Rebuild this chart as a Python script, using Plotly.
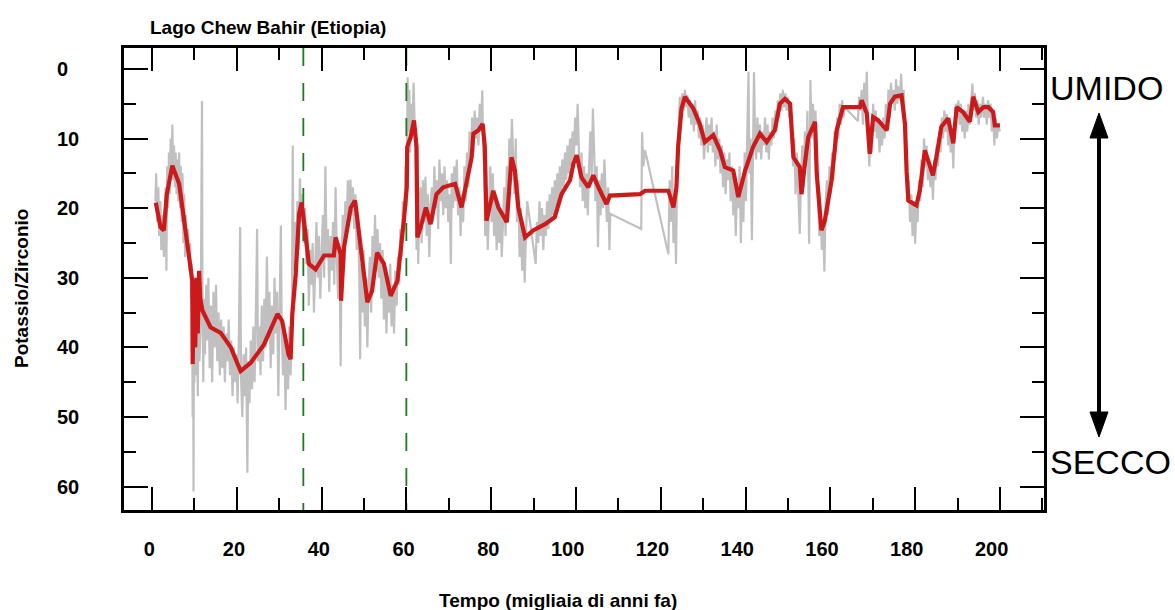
import plotly.graph_objects as go

# ---------------- data ----------------
# x tick values / labels
x_ticks = [0, 20, 40, 60, 80, 100, 120, 140, 160, 180, 200]
x_minor = [10, 30, 50, 70, 90, 110, 130, 150, 170, 190, 210]
y_ticks = [0, 10, 20, 30, 40, 50, 60]
y_minor = [5, 15, 25, 35, 45, 55]

# boundaries (green dashed lines), thousand years ago
boundaries = [35.7, 60.0]

# raw K/Zr record (grey), segments of (age, value)
raw_seg1 = [
    (0.8, 19), (1.0, 15), (1.2, 22), (1.5, 17), (1.7, 24), (2.0, 19), (2.2, 26), (2.5, 21), (2.8, 27), (3.0, 22),
    (3.2, 17), (3.4, 29), (3.6, 14), (3.8, 20), (4.0, 12), (4.2, 18), (4.4, 10), (4.6, 15), (4.8, 8), (5.0, 16),
    (5.2, 11), (5.4, 17), (5.6, 12), (5.8, 18), (6.0, 13), (6.2, 19), (6.4, 12), (6.6, 20), (6.8, 14), (7.0, 22),
    (7.2, 15), (7.4, 25), (7.6, 18), (7.8, 27), (8.0, 21), (8.2, 26), (8.5, 23), (8.8, 29), (9.0, 25), (9.2, 33),
    (9.4, 28), (9.6, 50), (9.7, 38), (9.8, 60.7), (9.9, 36), (10.0, 45), (10.2, 30), (10.4, 44), (10.6, 33), (10.8, 47),
    (11.0, 32), (11.2, 42), (11.5, 35), (11.8, 4.6), (11.9, 34), (12.1, 45), (12.3, 33), (12.5, 41), (12.8, 31), (13.0, 39),
    (13.3, 30), (13.6, 43), (13.9, 34), (14.2, 45), (14.5, 32), (14.8, 40), (15.1, 31), (15.4, 42), (15.7, 35), (16.0, 44),
    (16.3, 36), (16.6, 43), (16.9, 37), (17.2, 45), (17.5, 38), (17.8, 42), (18.1, 36), (18.4, 44), (18.7, 39), (19.0, 47),
    (19.3, 40), (19.6, 45), (19.9, 41), (20.2, 48), (20.5, 38), (20.8, 22.7), (21.0, 44), (21.3, 50), (21.6, 41), (21.9, 47),
    (22.2, 40), (22.5, 58), (22.7, 42), (23.0, 48), (23.3, 39), (23.6, 46), (23.9, 37), (24.2, 45), (24.5, 35), (24.8, 23),
    (25.0, 42), (25.3, 37), (25.6, 44), (25.9, 34), (26.2, 42), (26.5, 33), (26.8, 40), (27.1, 27), (27.4, 38), (27.7, 32),
    (28.0, 43), (28.3, 34), (28.6, 41), (28.9, 30), (29.2, 38), (29.5, 32), (29.8, 47), (30.1, 34), (30.4, 22.5), (30.6, 37),
    (30.9, 44), (31.2, 38), (31.5, 49), (31.8, 40), (32.1, 46), (32.4, 37), (32.7, 44), (33.0, 35), (33.2, 11), (33.4, 29),
]
raw_seg2 = [
    (33.7, 22), (34.0, 30), (34.3, 19), (34.6, 26), (34.9, 15.7), (35.2, 22), (35.5, 18), (35.8, 25), (36.1, 20), (36.4, 28),
    (36.7, 23), (37.0, 34), (37.3, 26), (37.6, 31), (37.9, 25), (38.2, 35), (38.5, 27), (38.8, 22), (39.1, 30), (39.4, 24),
    (39.7, 33), (40.0, 25), (40.3, 21), (40.6, 30), (40.9, 14), (41.2, 27), (41.5, 23), (41.8, 32), (42.1, 24), (42.4, 29),
    (42.7, 22), (43.0, 31), (43.3, 17), (43.6, 27), (43.9, 33), (44.2, 25), (44.5, 42.7), (44.7, 28), (45.0, 21), (45.3, 28),
    (45.6, 19), (45.9, 24), (46.2, 16), (46.5, 22), (46.8, 15.9), (47.1, 21), (47.4, 17), (47.7, 23), (48.0, 18), (48.3, 26),
    (48.6, 21), (48.9, 30), (49.1, 41.7), (49.3, 28), (49.6, 35), (49.9, 26), (50.2, 37), (50.5, 30), (50.8, 40), (51.1, 31),
    (51.4, 27), (51.7, 35), (52.0, 24), (52.3, 31), (52.6, 21), (52.9, 29), (53.2, 23), (53.5, 30), (53.8, 25), (54.1, 33),
    (54.4, 26), (54.7, 36), (55.0, 29), (55.3, 38), (55.6, 30), (55.9, 35), (56.2, 28), (56.5, 37), (56.8, 31), (57.1, 38),
    (57.4, 29), (57.7, 34), (58.0, 27), (58.3, 31), (58.6, 23), (58.9, 27), (59.2, 19), (59.5, 23), (59.8, 14), (60.1, 18),
    (60.3, 1.2), (60.5, 9), (60.7, 3), (60.9, 12), (61.1, 5), (61.4, 10), (61.7, 2), (62.0, 9), (62.2, 14), (62.4, 26),
    (62.6, 18), (62.8, 28), (63.0, 21), (63.3, 17), (63.6, 25), (63.9, 16), (64.2, 22), (64.5, 15.5), (64.8, 24), (65.1, 18),
    (65.4, 27), (65.7, 20),
]
raw_seg3 = [
    (66.0, 17), (66.3, 22), (66.6, 14), (66.9, 20), (67.2, 16), (67.5, 23), (67.8, 13), (68.1, 19), (68.4, 15), (68.7, 21),
    (69.0, 14), (69.3, 20), (69.6, 16), (69.9, 22), (70.2, 18), (70.5, 28), (70.7, 15), (71.0, 20), (71.3, 14), (71.6, 19),
    (71.9, 13), (72.2, 21), (72.5, 17), (72.8, 24), (73.1, 18), (73.4, 22), (73.7, 14), (74.0, 19), (74.3, 12), (74.6, 17),
    (74.9, 9), (75.2, 14), (75.5, 7), (75.8, 12), (76.1, 6), (76.4, 10), (76.7, 7), (77.0, 11), (77.3, 5), (77.6, 9),
    (77.9, 3.1), (78.1, 10), (78.4, 16), (78.6, 24), (78.9, 17), (79.2, 26), (79.5, 19), (79.8, 14), (80.1, 22), (80.4, 15),
    (80.7, 24), (81.0, 18), (81.3, 26), (81.6, 19), (81.9, 25), (82.2, 20), (82.5, 27), (82.8, 21), (83.1, 17), (83.4, 24),
    (83.7, 14), (84.0, 18), (84.3, 10), (84.6, 15), (84.9, 7.2), (85.2, 13), (85.5, 18), (85.8, 10), (86.1, 22), (86.4, 16),
    (86.7, 27), (87.0, 20), (87.3, 29), (87.6, 22), (87.9, 30.7), (88.2, 24), (88.5, 19), (90.5, 28), (90.8, 22), (91.1, 25),
    (91.4, 19), (91.7, 24), (92.0, 20), (92.3, 26), (92.6, 21), (92.9, 24), (93.2, 19), (93.5, 23), (93.8, 18), (94.1, 22),
    (94.4, 17), (94.7, 21), (95.0, 16), (95.3, 20), (95.6, 15), (95.9, 19), (96.2, 14), (96.5, 18), (96.8, 13), (97.1, 17),
    (97.4, 12), (97.7, 16), (98.0, 11), (98.3, 15), (98.6, 10), (98.9, 14), (99.2, 9), (99.5, 13), (99.8, 7), (100.1, 11),
    (100.4, 5), (100.7, 12), (101.0, 17), (101.3, 12), (101.6, 19), (101.9, 14), (102.2, 20), (102.5, 15), (102.8, 21), (103.1, 14),
    (103.4, 9), (103.7, 16), (104.0, 5.7), (104.3, 12), (104.6, 19), (104.9, 14), (105.2, 25.6), (105.5, 16), (105.8, 21), (106.1, 15),
    (106.4, 20), (106.7, 13), (107.0, 19), (107.3, 22), (107.6, 17), (107.9, 26), (108.1, 20.8), (115.4, 23.0), (115.6, 9.1), (115.9, 14),
    (116.3, 11.7), (121.8, 26.6), (122.1, 16), (122.4, 22), (122.7, 14), (123.0, 25), (123.3, 18), (123.6, 28), (123.9, 13), (124.2, 9),
]
raw_seg4 = [
    (124.5, 4), (124.8, 7), (125.1, 3.5), (125.4, 6), (125.7, 3), (126.0, 5.5), (126.3, 3.8), (126.6, 7), (126.9, 4.5), (127.2, 8),
    (127.5, 5), (127.8, 9), (128.1, 4.5), (128.4, 8), (128.7, 6), (129.0, 10), (129.3, 7), (129.6, 11), (129.9, 8), (130.2, 13),
    (130.5, 9), (130.8, 7), (131.1, 12), (131.4, 8), (131.7, 11), (132.0, 7), (132.3, 12), (132.6, 9), (132.9, 14), (133.2, 8),
    (133.5, 13), (133.8, 10), (134.1, 15), (134.4, 11), (134.7, 17), (135.0, 12), (135.3, 18), (135.6, 13), (135.9, 16), (136.2, 12),
    (136.5, 19), (136.8, 14), (137.1, 21), (137.4, 16), (137.7, 24), (138.0, 17), (138.3, 20), (138.6, 14), (138.9, 25), (139.2, 16),
    (139.5, 22), (139.8, 12), (140.1, 19), (140.4, 9), (140.7, 0.4), (140.9, 15), (141.2, 10), (141.5, 24.6), (141.7, 12), (142.0, 0.5),
    (142.2, 8), (142.5, 13), (142.8, 7), (143.1, 12), (143.4, 8), (143.7, 13), (144.0, 9), (144.3, 11), (144.6, 7), (144.9, 12),
    (145.2, 8), (145.5, 13), (145.8, 9), (146.1, 11), (146.4, 7), (146.7, 10), (147.0, 6), (147.3, 9), (147.6, 4.5), (147.9, 7),
    (148.2, 3.5), (148.5, 6), (148.8, 3), (149.1, 5.5), (149.4, 3.5), (149.7, 6), (150.0, 4), (150.3, 7), (150.6, 5), (150.9, 9),
    (151.2, 14), (151.5, 10), (151.8, 18), (152.1, 12), (152.4, 16), (152.8, 23.7), (153.1, 15), (153.4, 11), (153.7, 17), (154.0, 9),
    (154.3, 14), (154.6, 6), (155.0, 25.1), (155.3, 1.6), (155.6, 10), (155.9, 5), (156.2, 9), (156.5, 6), (156.8, 14), (157.1, 19),
    (157.4, 24), (157.7, 21), (158.0, 26), (158.3, 22), (158.6, 29.1), (158.9, 19), (159.2, 16), (159.5, 21), (159.8, 14), (160.1, 18),
    (160.4, 12), (160.7, 16), (161.0, 9), (161.3, 12), (161.6, 7), (161.9, 10), (162.2, 5), (162.5, 8), (162.8, 4.5), (163.1, 7),
]
raw_seg5 = [
    (163.4, 5.5), (166.5, 7.5), (166.8, 4), (167.1, 6), (167.4, 3), (167.7, 8), (168.0, 2), (168.3, 6), (168.6, 0.4), (168.9, 9),
    (169.2, 14), (169.5, 8), (169.8, 12), (170.1, 5), (170.4, 9), (170.7, 6), (171.0, 10), (171.3, 7), (171.6, 12), (171.9, 8),
    (172.2, 11), (172.5, 7), (172.8, 10), (173.1, 5), (173.4, 9), (173.7, 3), (174.0, 7), (174.3, 2), (174.6, 5), (174.9, 3),
    (175.2, 6), (175.5, 1.5), (175.8, 5), (176.1, 2.5), (176.4, 4.5), (176.7, 0.7), (177.0, 5), (177.3, 3), (177.6, 9), (177.9, 14),
    (178.2, 19), (178.5, 16), (178.8, 22), (179.1, 18), (179.4, 24), (179.7, 19), (180.0, 25.1), (180.3, 20), (180.6, 22), (180.9, 16),
    (181.2, 19), (181.5, 13), (181.8, 17), (182.1, 10), (182.4, 14), (182.7, 11), (183.0, 16), (183.3, 13), (183.6, 17), (183.9, 14),
    (184.2, 18.8), (184.5, 13), (184.8, 16), (185.1, 11), (185.4, 14), (185.7, 9), (186.0, 12), (186.3, 7), (186.6, 10), (186.9, 6),
    (187.2, 9), (187.5, 6.5), (187.8, 11), (188.1, 7), (188.4, 12), (188.7, 9), (189.0, 14.3), (189.3, 8), (189.6, 5), (189.9, 7),
    (190.2, 4.5), (190.5, 8), (190.8, 5), (191.1, 9), (191.4, 6), (191.7, 10), (192.0, 6), (192.3, 9), (192.6, 5), (192.9, 8),
    (193.2, 4), (193.5, 2.1), (193.8, 6), (194.1, 3.5), (194.4, 7), (194.7, 4.5), (195.0, 8), (195.3, 5), (195.6, 7), (196.0, 4),
    (196.3, 7), (196.6, 5), (196.9, 8), (197.2, 4.5), (197.5, 7), (197.8, 5), (198.1, 9), (198.4, 6), (198.7, 11), (199.0, 7),
    (199.3, 10), (199.6, 8), (200.0, 9),
]

# smoothed record (red), (age, value)
smooth_series = [
    (0.9, 19.2), (2.0, 22.7), (2.8, 23.2), (3.5, 18.0), (4.8, 13.9), (6.4, 16.5), (7.9, 23.2), (8.7, 26.6), (9.5, 30.4), (9.6, 42.4),
    (9.9, 31.0), (10.2, 40.0), (10.5, 30.0), (10.8, 38.0), (11.1, 29.0), (11.4, 33.0), (11.9, 34.7), (13.8, 37.1), (16.2, 37.9), (18.6, 40.0),
    (20.9, 43.4), (23.3, 42.2), (26.4, 39.6), (29.6, 35.2), (30.7, 36.2), (32.2, 41.0), (32.7, 41.7), (33.1, 35.2), (33.9, 29.5), (34.7, 20.8),
    (35.3, 19.2), (36.2, 23.7), (37.0, 28.0), (38.6, 28.8), (40.6, 26.8), (42.9, 26.8), (43.3, 24.2), (44.5, 26.6), (44.6, 33.3), (45.3, 25.6),
    (46.9, 19.9), (47.9, 18.9), (48.8, 23.7), (50.0, 30.4), (50.8, 33.5), (51.9, 31.9), (53.1, 26.4), (54.7, 28.0), (56.3, 32.6), (57.9, 30.4),
    (58.7, 26.1), (59.4, 21.8), (60.1, 17.0), (60.2, 11.2), (61.0, 9.8), (61.8, 7.4), (62.4, 11.2), (62.6, 24.2), (63.4, 22.7), (64.6, 19.9),
    (65.7, 22.3), (67.1, 18.0), (68.7, 17.0), (71.5, 16.5), (73.0, 19.9), (74.2, 16.1), (75.4, 12.7), (75.8, 9.3), (77.0, 8.8), (78.0, 7.9),
    (78.5, 11.2), (78.9, 21.8), (80.5, 17.5), (81.7, 19.9), (83.7, 22.0), (84.8, 12.7), (85.6, 14.6), (86.4, 19.9), (88.0, 24.2), (89.9, 23.2),
    (92.7, 22.3), (95.0, 21.3), (96.6, 18.0), (98.6, 16.0), (99.4, 13.6), (100.2, 12.4), (101.3, 15.6), (102.9, 17.0), (104.1, 15.3), (105.3, 17.0),
    (107.2, 19.4), (108.0, 18.2), (115.1, 18.0), (116.3, 17.5), (121.8, 17.5), (123.0, 19.9), (123.7, 17.0), (124.1, 11.2), (124.9, 5.7), (125.7, 4.0),
    (127.7, 5.7), (129.2, 7.9), (130.4, 10.5), (132.4, 9.5), (134.0, 11.7), (135.1, 14.1), (137.1, 14.6), (138.3, 18.4), (139.9, 14.6), (141.8, 11.2),
    (143.4, 9.3), (145.0, 10.5), (146.9, 8.8), (148.1, 5.0), (149.3, 4.3), (150.5, 5.0), (151.3, 12.7), (152.8, 14.1), (153.2, 18.0), (154.0, 13.6),
    (154.8, 9.8), (156.4, 7.6), (156.8, 15.1), (157.9, 23.2), (158.7, 21.8), (160.3, 16.0), (161.5, 8.8), (163.0, 5.5), (167.0, 5.5), (167.4, 4.5),
    (168.6, 6.4), (169.3, 12.2), (170.1, 6.9), (171.3, 7.4), (173.3, 8.8), (174.1, 5.0), (175.2, 4.0), (176.8, 3.8), (177.6, 7.9), (178.0, 14.8),
    (178.4, 18.9), (180.3, 19.6), (181.1, 17.5), (182.3, 11.7), (183.5, 14.1), (184.2, 15.3), (185.0, 12.7), (186.2, 8.3), (187.8, 7.1), (189.0, 10.7),
    (189.8, 5.5), (191.3, 6.2), (192.9, 7.6), (193.7, 4.0), (194.9, 6.2), (196.1, 5.5), (197.3, 5.5), (198.4, 6.2), (198.8, 8.1), (200.0, 8.1),
]

# ---------------- figure ----------------
raw_all = raw_seg1 + raw_seg2 + raw_seg3 + raw_seg4 + raw_seg5
raw_age = [p[0] for p in raw_all]
raw_val = [p[1] for p in raw_all]
sm_age = [p[0] for p in smooth_series]
sm_val = [p[1] for p in smooth_series]

Y_LO, Y_HI = -3.0, 63.35
NB = "\u00a0"

fig = go.Figure()
fig.add_trace(go.Scatter(x=raw_age, y=raw_val, mode="lines",
                         line=dict(color="#c0c0c0", width=2.2), hoverinfo="skip"))
for b in boundaries:
    fig.add_trace(go.Scatter(x=[b, b], y=[Y_LO, Y_HI], mode="lines",
                             line=dict(color="#1f7a1f", width=1.8, dash="18px,17px"),
                             hoverinfo="skip"))
fig.add_trace(go.Scatter(x=sm_age, y=sm_val, mode="lines",
                         line=dict(color="#cc1a1a", width=4.2), hoverinfo="skip"))

axis_common = dict(
    showline=True, linewidth=2.5, linecolor="black", mirror="ticks",
    ticks="inside", tickwidth=2, tickcolor="black",
    showgrid=False, zeroline=False,
    tickfont=dict(family="Liberation Sans", size=20, color="black", weight="bold"),
)

x_text = [str(v) + NB * (1 if v < 100 else 3) for v in x_ticks]
y_text = [str(v) + (NB * 2 if v < 10 else "") for v in y_ticks]

fig.update_xaxes(range=[-6.6, 210.4], tickvals=x_ticks, ticktext=x_text, ticklen=23,
                 ticklabelstandoff=19,
                 minor=dict(tickvals=x_minor, ticks="inside", ticklen=12, tickwidth=2,
                            tickcolor="black", showgrid=False),
                 **axis_common)
fig.update_yaxes(range=[Y_HI, Y_LO], tickvals=y_ticks, ticktext=y_text, ticklen=24,
                 ticklabelstandoff=38,
                 minor=dict(tickvals=y_minor, ticks="inside", ticklen=12, tickwidth=2,
                            tickcolor="black", showgrid=False),
                 **axis_common)

L, R, T, B = 124, 1044, 48, 510
W, H = R - L, B - T


def px(xp):
    return (xp - L) / W


def py(yp):
    return (B - yp) / H


bold = dict(family="Liberation Sans", size=19, color="black", weight="bold")
ann = [
    dict(text="Lago Chew Bahir (Etiopia)", x=px(148), y=py(27), xanchor="left", yanchor="middle",
         font=bold),
    dict(text="Tempo (migliaia di anni fa)", x=px(558), y=py(600), xanchor="center", yanchor="middle",
         font=bold),
    dict(text="Potassio/Zirconio", x=px(21), y=py(289), xanchor="center", yanchor="middle",
         textangle=-90, font=bold),
    dict(text="UMIDO", x=px(1106), y=py(88), xanchor="center", yanchor="middle",
         font=dict(family="Liberation Sans", size=34, color="black")),
    dict(text="SECCO", x=px(1110), y=py(462), xanchor="center", yanchor="middle",
         font=dict(family="Liberation Sans", size=34, color="black")),
]
for a in ann:
    a.update(xref="paper", yref="paper", showarrow=False)

ax_x = 1099
shapes = [
    dict(type="line", xref="paper", yref="paper", x0=px(ax_x), x1=px(ax_x), y0=py(133), y1=py(417),
         line=dict(color="black", width=4)),
    dict(type="path", xref="paper", yref="paper",
         path=f"M {px(ax_x)},{py(113)} L {px(ax_x - 9)},{py(138)} L {px(ax_x + 9)},{py(138)} Z",
         fillcolor="black", line=dict(color="black", width=1)),
    dict(type="path", xref="paper", yref="paper",
         path=f"M {px(ax_x)},{py(437)} L {px(ax_x - 9)},{py(412)} L {px(ax_x + 9)},{py(412)} Z",
         fillcolor="black", line=dict(color="black", width=1)),
]

fig.update_layout(width=1175, height=610, margin=dict(l=L, r=1175 - R, t=T, b=610 - B),
                  plot_bgcolor="white", paper_bgcolor="white", showlegend=False,
                  annotations=ann, shapes=shapes)

fig.write_html("out.html", config={"displayModeBar": False},
               post_script="document.body.style.margin='0';document.body.style.overflow='hidden';")
